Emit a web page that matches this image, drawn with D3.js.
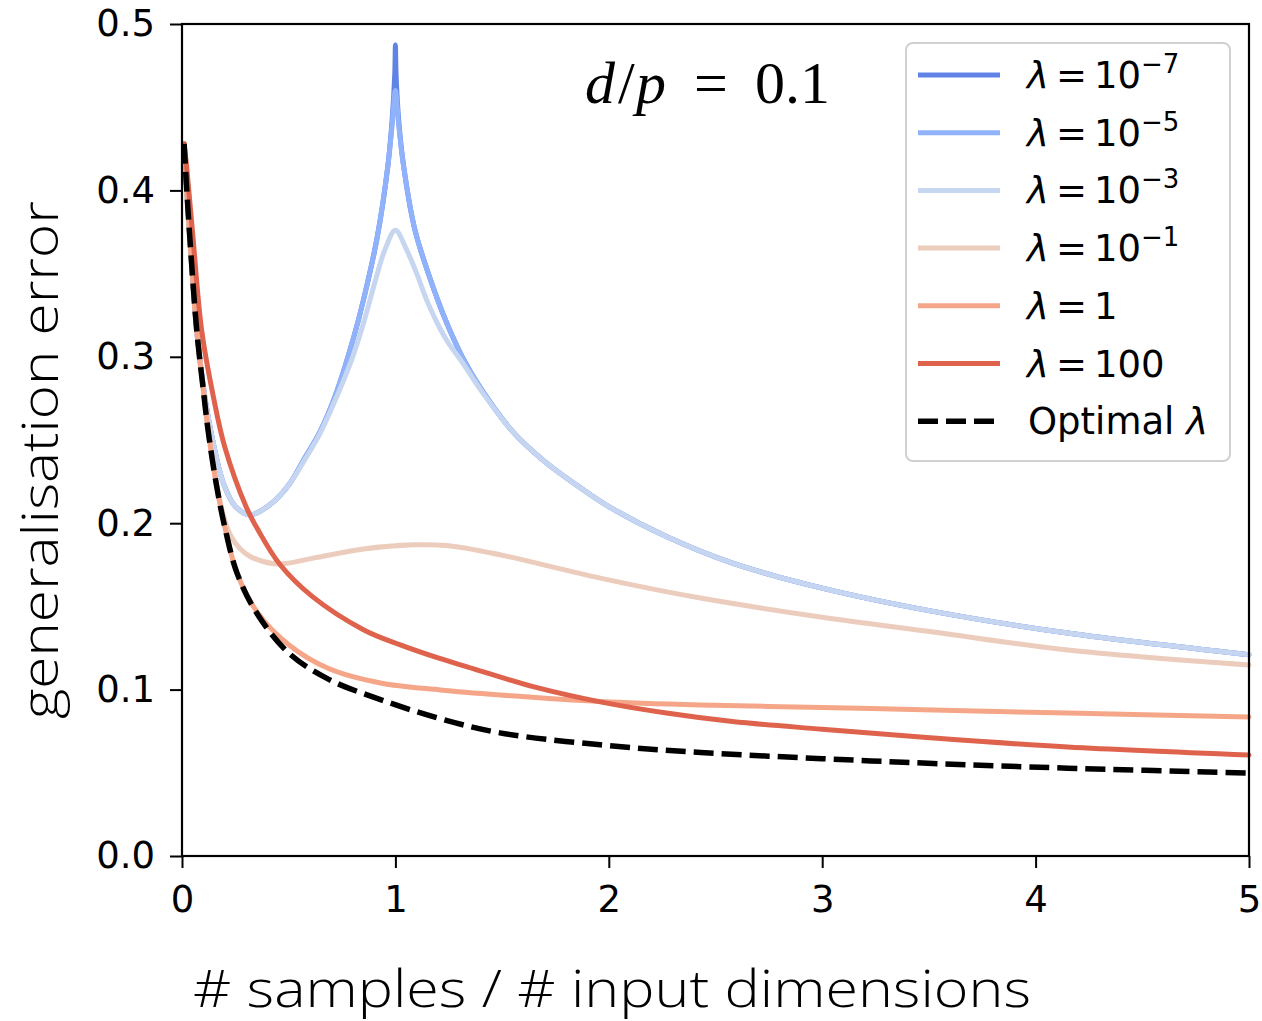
<!DOCTYPE html>
<html>
<head>
<meta charset="utf-8">
<script src="https://cdn.jsdelivr.net/npm/d3@7"></script>
<style>
  html, body { margin: 0; padding: 0; background: #ffffff; }
  svg { display: block; }
</style>
</head>
<body>
<svg id="chart" width="1262" height="1021"></svg>
<script>
// ---------- data ----------
const xTicks = [0, 1, 2, 3, 4, 5];
const yTicks = [0.0, 0.1, 0.2, 0.3, 0.4, 0.5];

const lam7 = [[0.01,0.428],[0.02,0.405],[0.0375,0.37],[0.069,0.316],[0.1,0.282],[0.125,0.262],[0.15,0.246],[0.175,0.232],[0.2,0.222],[0.25,0.21],[0.32,0.205],[0.41,0.211],[0.5,0.223],[0.57,0.238],[0.647,0.255],[0.725,0.279],[0.803,0.311],[0.85,0.334],[0.915,0.372],[0.964,0.414],[0.985,0.443],[0.997,0.47],[1.0,0.4874],[1.003,0.47],[1.015,0.443],[1.037,0.416],[1.092,0.376],[1.193,0.336],[1.248,0.318],[1.317,0.299],[1.4,0.281],[1.55,0.255],[1.7,0.237],[1.87,0.221],[2.0,0.21],[2.27,0.192],[2.58,0.176],[3.0,0.161],[3.52,0.147],[4.15,0.134],[5.0,0.121]];
const lam5 = [[0.01,0.428],[0.02,0.405],[0.0375,0.37],[0.069,0.316],[0.1,0.282],[0.125,0.262],[0.15,0.246],[0.175,0.232],[0.2,0.222],[0.25,0.21],[0.32,0.205],[0.41,0.211],[0.5,0.223],[0.57,0.238],[0.647,0.255],[0.725,0.279],[0.803,0.311],[0.85,0.334],[0.915,0.372],[0.964,0.414],[0.985,0.44],[1.0,0.46],[1.015,0.44],[1.037,0.416],[1.092,0.376],[1.193,0.336],[1.248,0.318],[1.317,0.299],[1.4,0.281],[1.55,0.255],[1.7,0.237],[1.87,0.221],[2.0,0.21],[2.27,0.192],[2.58,0.176],[3.0,0.161],[3.52,0.147],[4.15,0.134],[5.0,0.121]];
const lam3 = [[0.01,0.428],[0.02,0.405],[0.0375,0.37],[0.069,0.316],[0.1,0.282],[0.125,0.262],[0.15,0.246],[0.175,0.232],[0.2,0.222],[0.25,0.21],[0.32,0.205],[0.41,0.211],[0.5,0.223],[0.57,0.237],[0.647,0.254],[0.725,0.276],[0.8,0.3],[0.85,0.32],[0.9,0.343],[0.95,0.364],[1.0,0.376],[1.05,0.365],[1.1,0.35],[1.15,0.333],[1.209,0.317],[1.25,0.308],[1.317,0.296],[1.4,0.28],[1.55,0.255],[1.7,0.237],[1.87,0.221],[2.0,0.21],[2.27,0.192],[2.58,0.176],[3.0,0.161],[3.52,0.147],[4.15,0.134],[5.0,0.121]];
const lam1m = [[0.01,0.428],[0.02,0.405],[0.0375,0.37],[0.069,0.316],[0.1,0.28],[0.125,0.256],[0.15,0.233],[0.175,0.215],[0.2,0.202],[0.23,0.192],[0.27,0.185],[0.32,0.18],[0.38,0.177],[0.46,0.1755],[0.615,0.179],[0.85,0.1845],[1.084,0.187],[1.25,0.1865],[1.49,0.181],[1.96,0.167],[2.43,0.155],[3.0,0.1435],[3.52,0.1346],[4.15,0.1238],[5.0,0.1148]];
const lam1 = [[0.01,0.428],[0.02,0.405],[0.0375,0.37],[0.069,0.316],[0.1,0.28],[0.122,0.256],[0.16,0.224],[0.2,0.198],[0.258,0.17],[0.35,0.147],[0.5,0.127],[0.69,0.1125],[0.93,0.104],[1.21,0.0998],[1.49,0.0968],[1.96,0.0928],[2.43,0.0907],[3.0,0.0893],[3.52,0.0877],[4.15,0.0859],[5.0,0.0835]];
const lam100 = [[0.01,0.428],[0.022,0.414],[0.05,0.374],[0.092,0.316],[0.147,0.276],[0.2,0.246],[0.3,0.21],[0.356,0.196],[0.46,0.175],[0.61,0.156],[0.85,0.136],[1.02,0.127],[1.2,0.119],[1.34,0.1135],[1.65,0.1016],[1.96,0.0926],[2.27,0.0859],[2.58,0.0808],[3.0,0.0762],[3.52,0.0709],[4.15,0.0655],[5.0,0.0607]];
const optimal = [[0.01,0.428],[0.02,0.405],[0.0375,0.37],[0.069,0.316],[0.1,0.28],[0.122,0.256],[0.16,0.224],[0.2,0.198],[0.258,0.17],[0.35,0.146],[0.5,0.122],[0.69,0.106],[0.93,0.094],[1.21,0.0825],[1.49,0.074],[1.96,0.0668],[2.43,0.0622],[3.0,0.0585],[3.52,0.0556],[4.15,0.0528],[5.0,0.0499]];

const seriesData = [lam7, lam5, lam3, lam1m, lam1, lam100, optimal];
const legendBase = ["10", "10", "10", "10", "1", "100", "Optimal "];
const legendExp  = ["\u22127", "\u22125", "\u22123", "\u22121", "", "", ""];
const colors = ["#5f84e6", "#8fb2fb", "#c7d6f0", "#ecccbd", "#f5a688", "#df624d", "#000000"];

// ---------- layout ----------
const svg = d3.select("#chart");
const L = 182, R = 1249, T = 24, B = 856;
const x = d3.scaleLinear().domain([0, 5]).range([L, R]);
const y = d3.scaleLinear().domain([0, 0.5]).range([B, T]);
const tickFont = "'DejaVu Sans', sans-serif";

// lines
const line = d3.line().x(d => x(d[0])).y(d => y(d[1])).curve(d3.curveCatmullRom.alpha(0.5));
seriesData.forEach((s, i) => {
  const p = svg.append("path")
    .attr("d", line(s))
    .attr("fill", "none")
    .attr("stroke", colors[i])
    .attr("stroke-width", i === 6 ? 5.5 : 5)
    .attr("stroke-linejoin", "round")
    .attr("stroke-linecap", i === 6 ? "butt" : "round");
  if (i === 6) p.attr("stroke-dasharray", "20,8");
});

// frame
svg.append("rect").attr("x", L).attr("y", T).attr("width", R - L).attr("height", B - T)
  .attr("fill", "none").attr("stroke", "#000").attr("stroke-width", 2.2);

// axes
const yAxis = svg.append("g").attr("transform", `translate(${L},0)`)
  .call(d3.axisLeft(y).tickValues(yTicks).tickFormat(d3.format(".1f")).tickSize(12).tickPadding(15));
const xAxis = svg.append("g").attr("transform", `translate(0,${B})`)
  .call(d3.axisBottom(x).tickValues(xTicks).tickFormat(d3.format("d")).tickSize(12).tickPadding(18));
[yAxis, xAxis].forEach(g => {
  g.select(".domain").remove();
  g.selectAll(".tick line").attr("stroke", "#000").attr("stroke-width", 2);
  g.selectAll(".tick text").attr("fill", "#000").style("font-family", tickFont).style("font-size", "37px");
});

// axis titles
svg.append("text")
  .attr("x", 612).attr("y", 1007)
  .attr("text-anchor", "middle")
  .attr("textLength", 838).attr("lengthAdjust", "spacingAndGlyphs")
  .style("font-family", "'Open Sans', sans-serif").style("font-weight", 300)
  .style("font-size", "51px").attr("fill", "#000")
  .text("# samples / # input dimensions");
svg.append("text")
  .attr("transform", "translate(58,460) rotate(-90)")
  .attr("text-anchor", "middle")
  .attr("textLength", 518).attr("lengthAdjust", "spacingAndGlyphs")
  .style("font-family", "'Open Sans', sans-serif").style("font-weight", 300)
  .style("font-size", "50px").attr("fill", "#000")
  .text("generalisation error");

// in-plot annotation d/p = 0.1
const ann = svg.append("text").attr("y", 103)
  .style("font-family", "'Liberation Serif', 'Times New Roman', serif")
  .style("font-size", "60px").attr("fill", "#000");
ann.append("tspan").attr("x", 585).style("font-style", "italic").text("d");
ann.append("tspan").attr("x", 618).text("/");
ann.append("tspan").attr("x", 636).style("font-style", "italic").text("p");
ann.append("tspan").attr("x", 694).text("=");
ann.append("tspan").attr("x", 755).text("0.1");

// legend
const lg = svg.append("g");
lg.append("rect").attr("x", 906).attr("y", 43).attr("width", 324).attr("height", 418)
  .attr("rx", 7).attr("fill", "#ffffff").attr("fill-opacity", 0.85)
  .attr("stroke", "#d0d0d0").attr("stroke-width", 2);
const step = 57.7;
seriesData.forEach((s, i) => {
  const yy = 75 + i * step;
  const l = lg.append("line").attr("x1", 918).attr("x2", 1000).attr("y1", yy).attr("y2", yy)
    .attr("stroke", colors[i]).attr("stroke-width", i === 6 ? 5.5 : 5);
  if (i === 6) l.attr("stroke-dasharray", "20,8");
  const t = lg.append("text").attr("x", 1027).attr("y", yy + 13)
    .style("font-family", tickFont).style("font-size", "37px").attr("fill", "#000");
  if (i < 6) {
    t.append("tspan").style("font-style", "italic").text("\u03bb");
    t.append("tspan").attr("dx", 7).text("=");
    t.append("tspan").attr("dx", 7).text(legendBase[i]);
    if (legendExp[i]) {
      t.append("tspan").attr("dy", -15).style("font-size", "26px").text(legendExp[i]);
    }
  } else {
    t.append("tspan").attr("dx", 1).text(legendBase[i]);
    t.append("tspan").style("font-style", "italic").text("\u03bb");
  }
});
</script>
</body>
</html>
